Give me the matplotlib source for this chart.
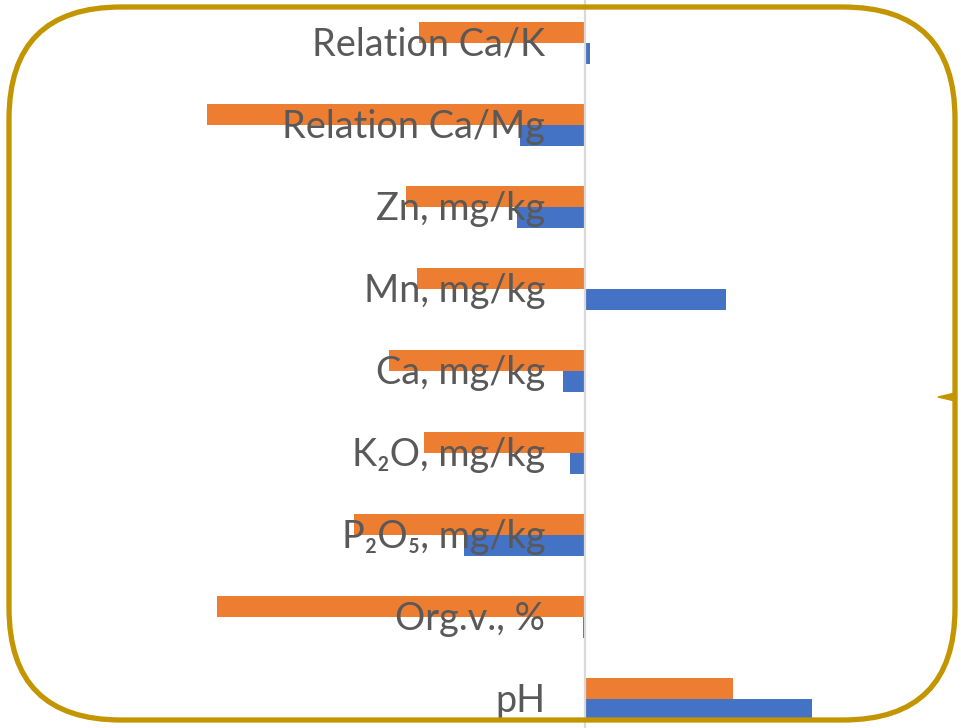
import matplotlib.pyplot as plt
from matplotlib.patches import FancyBboxPatch, Polygon
from matplotlib import transforms

# soil parameters, bottom to top
labels = ['pH', 'Org.v., %', 'P₂O₅, mg/kg', 'K₂O, mg/kg', 'Ca, mg/kg',
          'Mn, mg/kg', 'Zn, mg/kg', 'Relation Ca/Mg', 'Relation Ca/K']
orange_vals = [37.0, -92.0, -57.75, -40.25, -49.0, -42.0, -44.75, -94.5, -41.5]
blue_vals = [56.75, -0.5, -30.25, -3.75, -5.5, 35.25, -17.0, -16.25, 1.25]

W, H = 961, 728
fig = plt.figure(figsize=(W / 100, H / 100), dpi=100)
ax = fig.add_axes([0, 0, 1, 1])

y = list(range(len(labels)))
h = 0.256
ax.barh([v + h / 2 for v in y], orange_vals, height=h, color='#ED7D31', zorder=2)
ax.barh([v - h / 2 for v in y], blue_vals, height=h, color='#4472C4', zorder=2)
ax.axvline(0, color='#D9D9D9', lw=1.6, zorder=3)

ax.set_xlim(-146.25, 94.0)
ax.set_ylim(-0.354, 8.524)
ax.axis('off')

# category names sit just left of the zero line, over the bars
lbl_tr = transforms.offset_copy(ax.transData, fig=fig, x=-40, y=-2, units='dots')
for yi, name in zip(y, labels):
    ax.text(0, yi, name, transform=lbl_tr, ha='right', va='center',
            fontsize=27.3, color='#595959', family=['Lato', 'DejaVu Sans'], zorder=4)

# rounded frame
gold = '#C39500'
frame = FancyBboxPatch((9, 8), 946, 713, boxstyle='round,pad=0,rounding_size=112',
                       transform=None, fill=False, edgecolor=gold, lw=3.8, zorder=10)
fig.add_artist(frame)
notch = Polygon([(938, H - 397), (955, H - 393), (955, H - 401)], closed=True,
                transform=None, color=gold, zorder=10)
fig.add_artist(notch)

fig.savefig('out.png', dpi=100, facecolor='w')
